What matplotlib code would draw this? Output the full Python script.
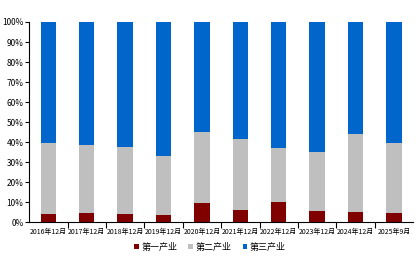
import matplotlib.pyplot as plt
from matplotlib.ticker import PercentFormatter, FixedLocator

plt.rcParams['font.family'] = ['Noto Sans CJK SC', 'DejaVu Sans']

# data (share of each industry, %)
periods = ['2016年12月', '2017年12月', '2018年12月', '2019年12月', '2020年12月',
           '2021年12月', '2022年12月', '2023年12月', '2024年12月', '2025年9月']
primary = [4.2, 4.7, 4.2, 3.7, 9.7, 6.2, 10.2, 5.5, 5.0, 4.5]
secondary = [35.5, 34.0, 33.5, 29.5, 35.5, 35.3, 26.8, 29.5, 39.0, 35.0]
tertiary = [100 - a - b for a, b in zip(primary, secondary)]

fig = plt.figure(figsize=(4.16, 2.65), dpi=100)
ax = fig.add_axes([0.07, 0.162, 0.923, 0.755])

x = range(len(periods))
w = 0.4
ax.bar(x, primary, w, color='#800000', label='第一产业')
ax.bar(x, secondary, w, bottom=primary, color='#BFBFBF', label='第二产业')
bottom2 = [a + b for a, b in zip(primary, secondary)]
ax.bar(x, tertiary, w, bottom=bottom2, color='#0066CC', label='第三产业')

ax.set_xlim(-0.5, len(periods) - 0.5)
ax.set_ylim(0, 100)
ax.set_yticks(range(0, 101, 10))
ax.yaxis.set_major_formatter(PercentFormatter(decimals=0))
ax.set_xticks(list(x))
ax.set_xticklabels(periods, fontsize=5)
ax.tick_params(axis='x', length=0, pad=4)
ax.xaxis.set_minor_locator(FixedLocator([i + 0.5 for i in range(len(periods) - 1)]))
ax.tick_params(axis='x', which='minor', length=4, width=0.8, direction='out')
ax.tick_params(axis='y', labelsize=6, length=3, width=0.8, pad=1, colors='black')

for s in ['top', 'right']:
    ax.spines[s].set_visible(False)
for s in ['left', 'bottom']:
    ax.spines[s].set_linewidth(0.8)

fig.legend(loc='lower center', bbox_to_anchor=(0.505, 0.02), ncol=3, frameon=False,
           fontsize=6.5, handlelength=0.5, handleheight=0.5, handletextpad=0.3,
           columnspacing=1.2)

plt.savefig('out.png', dpi=100)
